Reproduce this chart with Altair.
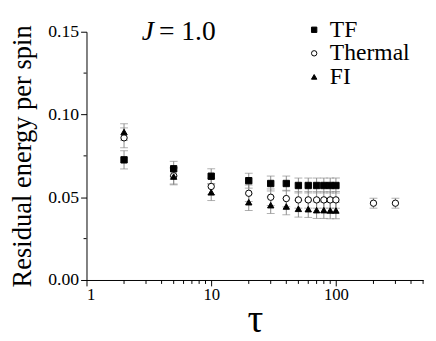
import altair as alt
import pandas as pd

# ---- data ----
tau_tf = [2, 5, 10, 20, 30, 40, 50, 60, 70, 80, 90, 100]
tf = [0.0726, 0.0672, 0.0627, 0.0600, 0.0583, 0.0583, 0.0571, 0.0571, 0.0571, 0.0571, 0.0571, 0.0571]
tf_err = [0.0055, 0.0045, 0.0045, 0.0045, 0.0045, 0.0045, 0.0045, 0.0045, 0.0045, 0.0045, 0.0045, 0.0045]

tau_th = [2, 5, 10, 20, 30, 40, 50, 60, 70, 80, 90, 100, 200, 300]
thermal = [0.0859, 0.0630, 0.0565, 0.0524, 0.0500, 0.0492, 0.0484, 0.0484, 0.0484, 0.0484, 0.0484, 0.0484, 0.0464, 0.0464]
th_err = [0.006, 0.005, 0.005, 0.005, 0.005, 0.005, 0.005, 0.005, 0.005, 0.005, 0.005, 0.005, 0.003, 0.003]

tau_fi = [2, 5, 10, 20, 30, 40, 50, 60, 70, 80, 90, 100]
fi = [0.0894, 0.0625, 0.0530, 0.0470, 0.0452, 0.0444, 0.0430, 0.0428, 0.0422, 0.0422, 0.0420, 0.0420]
fi_err = [0.005, 0.005, 0.005, 0.005, 0.005, 0.005, 0.005, 0.005, 0.005, 0.005, 0.005, 0.005]

series_names = ["TF", "Thermal", "FI"]
x_major = [1, 10, 100]
x_minor = [2, 3, 4, 5, 6, 7, 8, 9, 20, 30, 40, 50, 60, 70, 80, 90, 200, 300, 400, 500]
y_major = [0.00, 0.05, 0.10, 0.15]
y_minor = [0.025, 0.075, 0.125]

rows = []
for name, xs, ys, es in [("TF", tau_tf, tf, tf_err), ("Thermal", tau_th, thermal, th_err), ("FI", tau_fi, fi, fi_err)]:
    for a, b, e in zip(xs, ys, es):
        rows.append({"tau": a, "E": b, "err": e, "series": name})
df = pd.DataFrame(rows)

FONT = "Times New Roman, Liberation Serif, Times, serif"
xscale = alt.Scale(type="log", domain=[1, 500], nice=False)
yscale = alt.Scale(domain=[0, 0.15], nice=False, zero=False)

xaxis = alt.Axis(values=x_major, format="d", title="τ", grid=False, tickSize=6,
                 labelFont=FONT, labelFontSize=17, labelColor="black", domainColor="black",
                 tickColor="black", labelPadding=1, titleFont=FONT, titleFontSize=40,
                 titleFontWeight="normal", titleColor="black", titleY=52,
                 titleBaseline="alphabetic")
yaxis = alt.Axis(values=y_major, format=".2f", title="Residual energy per spin", grid=False,
                 tickSize=6, labelFont=FONT, labelFontSize=18, labelColor="black",
                 domainColor="black", tickColor="black", labelPadding=2,
                 titleFont=FONT, titleFontSize=27, titleFontWeight="normal",
                 titleColor="black", titleX=-65, titleBaseline="middle")

leg = alt.Legend(title=None, labelFont=FONT, labelFontSize=24, labelColor="black",
                 symbolSize=30, symbolStrokeColor="black", symbolStrokeWidth=1,
                 orient="none", legendX=220, legendY=-14, rowPadding=0, labelOffset=4, labelLimit=300)

base = alt.Chart(df)

points = base.mark_point(filled=False, strokeWidth=1, opacity=1, fillOpacity=1, size=42).encode(
    x=alt.X("tau:Q", scale=xscale, axis=xaxis),
    y=alt.Y("E:Q", scale=yscale, axis=yaxis),
    shape=alt.Shape("series:N", scale=alt.Scale(domain=series_names, range=["square", "circle", "triangle-up"]),
                    legend=leg),
    fill=alt.Fill("series:N", scale=alt.Scale(domain=series_names, range=["black", "white", "black"]),
                  legend=leg),
    stroke=alt.Stroke("series:N", scale=alt.Scale(domain=series_names, range=["black", "black", "black"]),
                      legend=leg),
)

bars = base.transform_calculate(lo="datum.E - datum.err", hi="datum.E + datum.err")
err_rule = bars.mark_rule(color="#8c8c8c", strokeWidth=1).encode(
    x=alt.X("tau:Q", scale=xscale, axis=xaxis), y=alt.Y("lo:Q", scale=yscale, axis=yaxis), y2="hi:Q")
cap_lo = bars.mark_tick(color="#8c8c8c", orient="horizontal", size=8, thickness=1).encode(
    x=alt.X("tau:Q", scale=xscale, axis=xaxis), y=alt.Y("lo:Q", scale=yscale, axis=yaxis))
cap_hi = bars.mark_tick(color="#8c8c8c", orient="horizontal", size=8, thickness=1).encode(
    x=alt.X("tau:Q", scale=xscale, axis=xaxis), y=alt.Y("hi:Q", scale=yscale, axis=yaxis))

xminor = alt.Chart(pd.DataFrame({"v": x_minor})).mark_rule(color="black", strokeWidth=1).encode(
    x=alt.X("v:Q", scale=xscale, axis=xaxis), y=alt.value(253), y2=alt.value(257))
yminor = alt.Chart(pd.DataFrame({"v": y_minor})).mark_rule(color="black", strokeWidth=1).encode(
    y=alt.Y("v:Q", scale=yscale, axis=yaxis), x=alt.value(0), x2=alt.value(-3))

ann = pd.DataFrame({"tau": [5], "E": [0.151]})
j_txt = alt.Chart(ann).mark_text(text="J", font=FONT, fontSize=28, fontStyle="italic", align="right",
                                 baseline="middle", dx=-20, dy=2, color="black").encode(
    x=alt.X("tau:Q", scale=xscale, axis=xaxis), y=alt.Y("E:Q", scale=yscale, axis=yaxis))
eq_txt = alt.Chart(ann).mark_text(text="= 1.0", font=FONT, fontSize=28, align="left",
                                  baseline="middle", dx=-15, dy=2, color="black").encode(
    x=alt.X("tau:Q", scale=xscale, axis=xaxis), y=alt.Y("E:Q", scale=yscale, axis=yaxis))

chart = alt.layer(err_rule, cap_lo, cap_hi, points, xminor, yminor, j_txt, eq_txt).properties(
    width=343, height=253,
    autosize=alt.AutoSizeParams(type="none"),
    padding={"left": 80, "top": 21, "right": 5, "bottom": 60},
).configure(font=FONT).configure_view(stroke=None).configure_axis(
    labelFont=FONT, titleFont=FONT
).configure_legend(labelFont=FONT)

chart.save("out.html", embed_options={"renderer": "svg", "actions": False})
